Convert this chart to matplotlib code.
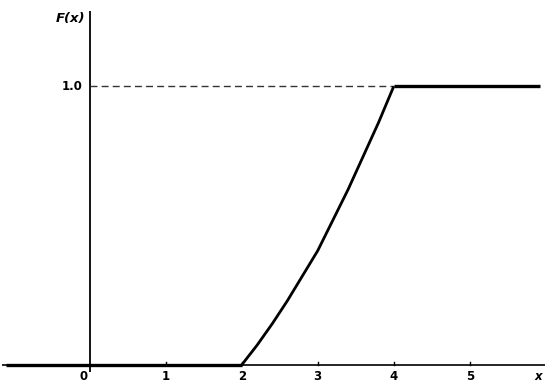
import matplotlib
matplotlib.use("Agg")
import matplotlib.pyplot as plt

# Data (CDF F(x))
x_zero = [-1.1, 2.0]
f_zero = [0.0, 0.0]
curve_x = [2.0, 2.2, 2.4, 2.6, 2.8, 3.0, 3.2, 3.4, 3.6, 3.8, 4.0]
curve_f = [0.0, 0.07, 0.147, 0.23, 0.32, 0.41, 0.52, 0.63, 0.75, 0.87, 1.0]
x_one = [4.0, 5.92]
f_one = [1.0, 1.0]
xtick_vals = [1, 2, 3, 4, 5]
xtick_labels = ["1", "2", "3", "4", "5"]

fig = plt.figure(figsize=(5.45, 3.83), dpi=100)
ax = fig.add_axes([0, 0, 1, 1])
ax.set_xlim(-1.18, 5.99)
ax.set_ylim(-0.065, 1.31)
ax.axis("off")

# axes
ax.plot([-1.15, 5.99], [0, 0], color="black", lw=1.2, solid_capstyle="butt")
ax.plot([0, 0], [-0.025, 1.27], color="black", lw=1.3, solid_capstyle="butt")

# dashed 1.0 reference line
ax.plot([0, 4.0], [1.0, 1.0], color="#333333", lw=1.0, ls=(0, (5, 3)))

# CDF pieces
ax.plot(x_zero, f_zero, color="black", lw=2.4, solid_capstyle="butt")
ax.plot(curve_x, curve_f, color="black", lw=2.0, solid_capstyle="butt")
ax.plot(x_one, f_one, color="black", lw=2.4, solid_capstyle="butt")

# tick marks
for v in xtick_vals:
    ax.plot([v, v], [0, 0.012], color="black", lw=1.0)

font = dict(family="DejaVu Sans", fontsize=8.5, fontweight="bold", color="black")
for v, lab in zip(xtick_vals, xtick_labels):
    ax.text(v, -0.042, lab, ha="center", va="center", **font)
ax.text(-0.03, -0.042, "0", ha="right", va="center", **font)
ax.text(5.9, -0.042, "x", ha="center", va="center", style="italic", **font)
ax.text(-0.1, 1.0, "1.0", ha="right", va="center", **font)
ax.text(-0.06, 1.245, "F(x)", ha="right", va="center", style="italic",
        family="DejaVu Sans", fontsize=9.5, fontweight="bold")

fig.savefig("out.png", dpi=100)
